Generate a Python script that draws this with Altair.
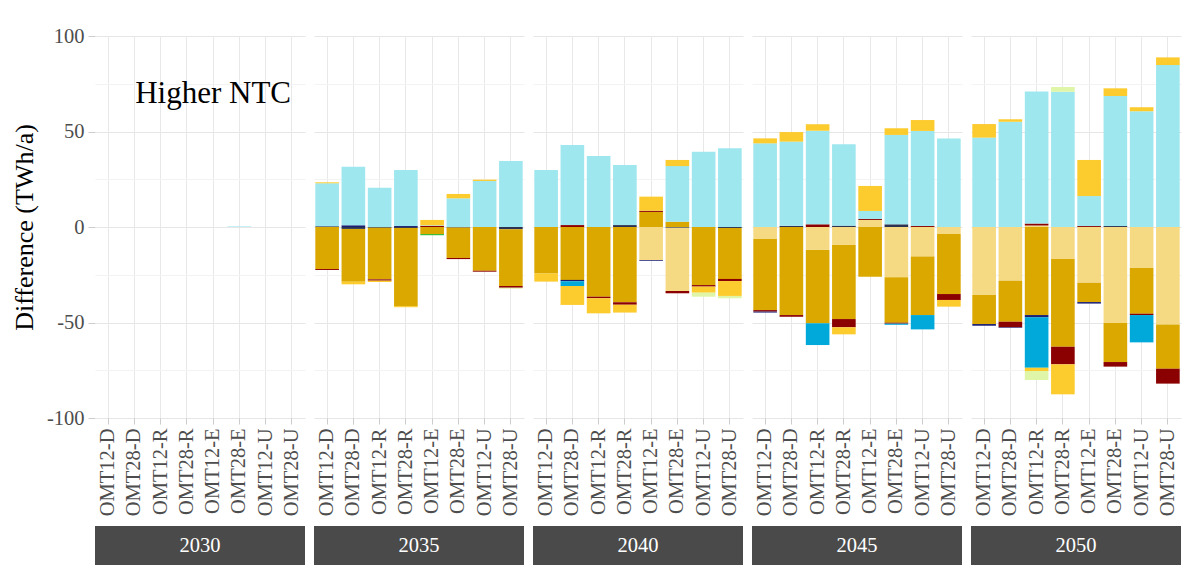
import altair as alt
import pandas as pd

years = ["2030", "2035", "2040", "2045", "2050"]
scenarios = ["OMT12-D", "OMT28-D", "OMT12-R", "OMT28-R", "OMT12-E", "OMT28-E", "OMT12-U", "OMT28-U"]

techs = ["Storage", "Gas OCGT", "Gas CCGT", "Lignite", "Nuclear", "Hydro", "Wind", "Solar", "Biomass", "Other"]
colors = ["#2B3350", "#F5D983", "#DBA800", "#8B0000", "#1A1F71", "#00A9D9", "#9EE7EE", "#FCCB2E", "#DFF5A8", "#2DB82D"]

# rows = years, columns = scenarios
storage = [
    [0, 0, 0, 0, 0, 0, 0, 0],
    [0.4, -1.0, -0.4, -0.5, 0, -0.3, 0, -1.2],
    [0, 0, 0, 1.0, 0, -0.4, 0, -0.5],
    [0, 0.6, 0, 0.7, 0, 1.4, 0, 0],
    [0, 0, 0, 0, 0, 0.5, 0, 0],
]
gas_ocgt = [
    [0, 0, 0, 0, 0, 0, 0, 0],
    [0, 0, 0, 0, 0, 0, 0, 0],
    [0, 0, 0, 0, -17.3, -33.1, 0, 0],
    [-6.3, 0, -12.0, -9.4, 3.7, -26.3, -15.5, -3.7],
    [-35.6, -28.1, 0.8, -16.8, -29.2, -50.3, -21.5, -51.1],
]
gas_ccgt = [
    [0, 0, 0, 0, 0, 0, 0, 0],
    [-22.0, -27.6, -27.0, -40.9, -3.7, -15.9, -22.9, -29.7],
    [-24.3, -27.7, -36.5, -39.4, 7.9, 2.8, -30.4, -26.7],
    [-37.2, -46.1, -38.4, -38.8, -26.0, -23.8, -30.6, -31.4],
    [-15.2, -21.5, -46.1, -45.9, -10.1, -20.4, -23.9, -23.1],
]
lignite = [
    [0, 0, 0, 0, 0, 0, 0, 0],
    [-0.5, 0, -0.7, 0, 0.6, -0.6, -0.5, -0.9],
    [0, 1.0, -0.8, -1.3, 0.6, -1.2, -0.8, -1.1],
    [-0.8, -0.9, 1.4, -4.3, 0.5, -0.5, 0.5, -3.1],
    [0, -2.9, 1.0, -9.2, 0.5, -2.4, -0.7, -7.8],
]
nuclear = [
    [0, 0, 0, 0, 0, 0, 0, 0],
    [0, 0.9, 0, 0.5, 0, 0, 0, 0],
    [0, -0.7, 0, 0, -0.4, 0, 0, 0],
    [-0.5, 0, 0, 0, 0, 0, 0, 0],
    [-0.9, -0.3, -1.2, 0, -0.8, 0, 0, 0],
]
hydro = [
    [0, 0, 0, 0, 0, 0, 0, 0],
    [0, 0, 0, 0, 0, 0, 0, 0],
    [0, -2.5, 0, 0, 0, 0, 0, 0],
    [0, 0, -11.4, 0, 0, -0.6, -7.5, 0],
    [0, 0, -26.4, 0, 0, 0, -14.3, 0],
]
wind = [
    [0, 0, 0, 0, 0, 0.3, 0, 0],
    [22.5, 30.7, 20.6, 29.3, 0.3, 15.0, 24.1, 34.6],
    [29.8, 41.9, 37.2, 31.5, 0, 29.1, 39.4, 41.2],
    [43.8, 44.1, 49.0, 42.6, 4.2, 46.8, 49.8, 46.4],
    [46.8, 55.1, 69.1, 70.8, 15.7, 68.1, 60.6, 84.8],
]
solar = [
    [0, 0, 0, 0, 0, 0, 0, 0],
    [0.5, -1.4, -0.7, -0.6, 2.8, 2.3, 0.7, 0],
    [-4.3, -9.9, -7.9, -4.1, 7.4, 3.2, -3.2, -7.8],
    [2.6, 5.0, 3.4, -3.7, 13.1, 3.5, 5.7, -3.5],
    [7.1, 1.3, -1.7, -15.7, 18.9, 4.0, 2.1, 4.0],
]
biomass = [
    [0, 0, 0, 0, 0, 0, 0, 0],
    [0, 0, 0, 0, 0, 0, 0, -0.5],
    [0, 0, 0, 0, 0, 0, -2.1, -1.2],
    [0, 0, 0, 0, 0, 0, 0, 0],
    [0, 0, -4.7, 2.5, 0, 0, 0, 0],
]
other = [
    [0, 0, 0, 0, 0, 0, 0, 0],
    [0, 0, 0, 0, -0.6, 0, 0, 0],
    [0, 0, 0, 0, 0, 0, 0, 0],
    [0, 0, 0, 0, 0, 0, 0, 0],
    [0, 0, 0, 0, 0, 0, 0, 0],
]

series = [storage, gas_ocgt, gas_ccgt, lignite, nuclear, hydro, wind, solar, biomass, other]

rows = []
for ti, (tech, arr) in enumerate(zip(techs, series)):
    for yi, yr in enumerate(years):
        for si, sc in enumerate(scenarios):
            v = arr[yi][si]
            if v != 0:
                rows.append({"year": yr, "scen": sc, "tech": tech, "ord": ti, "value": v})
df = pd.DataFrame(rows)

FONT = "Liberation Serif"
W, H = 210, 382
grid_major = "#E6E6E6"
grid_minor = "#F3F3F3"
tick_col = "#CCCCCC"
lab_col = "#4D4D4D"

yvals = list(range(-100, 101, 25))
grid_cond = {"condition": {"test": "datum.value % 50 != 0", "value": grid_minor}, "value": grid_major}
tick_cond = {"condition": {"test": "datum.value % 50 != 0", "value": "transparent"}, "value": tick_col}

columns = []
for i, yr in enumerate(years):
    if i == 0:
        yaxis = alt.Axis(values=yvals, labelExpr="datum.value % 50 == 0 ? '' + datum.value : ''",
                         title="Difference (TWh/a)", titleFontSize=26, titleFontWeight="normal",
                         titleColor="black", titleFont=FONT, labelFont=FONT, labelFontSize=20.5,
                         labelColor=lab_col, tickSize=7, tickColor=tick_cond, gridColor=grid_cond,
                         domain=False, labelPadding=4, titlePadding=9)
    else:
        yaxis = alt.Axis(values=yvals, labels=False, ticks=False, title=None, domain=False,
                         gridColor=grid_cond)
    xaxis = alt.Axis(title=None, labelAngle=-90, labelFont=FONT, labelFontSize=20.5, labelColor=lab_col,
                     tickSize=6, tickColor=tick_col, grid=True, gridColor="#E8E8E8", domain=False,
                     labelPadding=4, bandPosition=0.5)
    dsub = df[df["year"] == yr]
    bars = alt.Chart(dsub).mark_bar().encode(
        x=alt.X("scen:N", sort=scenarios,
                scale=alt.Scale(domain=scenarios, paddingInner=0.1, paddingOuter=0.05), axis=xaxis),
        y=alt.Y("value:Q", stack="zero", scale=alt.Scale(domain=[-100, 100], nice=False), axis=yaxis),
        color=alt.Color("tech:N", scale=alt.Scale(domain=techs, range=colors), legend=None),
        order=alt.Order("ord:Q", sort="ascending"),
    )
    panel = bars
    if i == 0:
        note = alt.Chart(pd.DataFrame({"scen": ["OMT12-E"], "value": [65], "label": ["Higher NTC"]})).mark_text(
            font=FONT, fontSize=31, color="black", align="center", baseline="alphabetic"
        ).encode(x=alt.X("scen:N", sort=scenarios), y=alt.Y("value:Q"), text="label:N")
        panel = alt.layer(bars, note)
    panel = panel.properties(width=W, height=H)

    sdf = pd.DataFrame({"year": [yr]})
    strip_rect = alt.Chart(sdf).mark_rect(color="#4A4A4A").encode(
        x=alt.value(0), x2=alt.value(W), y=alt.value(0), y2=alt.value(39))
    strip_text = alt.Chart(sdf).mark_text(font=FONT, fontSize=20.5, color="white",
                                          align="center", baseline="middle").encode(
        x=alt.value(W / 2), y=alt.value(20), text="year:N")
    strip = alt.layer(strip_rect, strip_text).properties(width=W, height=39)
    columns.append(alt.vconcat(panel, strip, spacing=10))

chart = alt.hconcat(*columns, spacing=9).properties(
    padding={"left": 3, "top": 18, "right": 5, "bottom": 2}
).configure(font=FONT).configure_view(stroke=None)

chart.save("out.html", embed_options={"renderer": "svg", "actions": False})
